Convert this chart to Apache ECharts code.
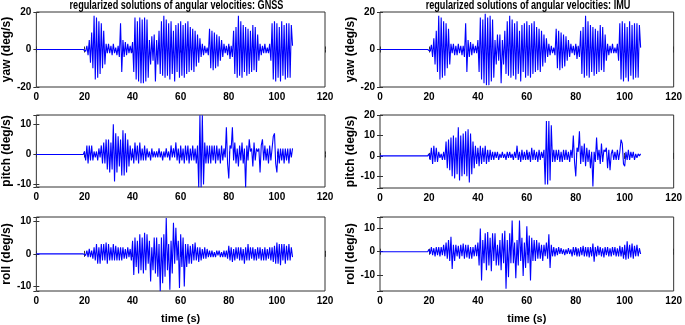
<!DOCTYPE html>
<html>
<head>
<meta charset="utf-8">
<script src="https://cdn.jsdelivr.net/npm/echarts@6/dist/echarts.min.js"></script>
<style>
  html, body { margin: 0; padding: 0; background: #fff; }
  #chart { width: 685px; height: 325px; }
</style>
</head>
<body>
<div id="chart"></div>
<script>
// samples, one every 0.5 s from t = 19.5 s (flat zero before)
const startTime = 19.5
const step = 0.5

const yawGnss = [0,
  0.5, -1, 2, -3, 5, -7, 9, -10, 18, -16,
  17, -15, 15, -13, 14, -10, 10, -8, 3, -2,
  3, -2, 2, -3, 3, -2, 1, -3, 2, -4,
  14, -12, 5, -4, 4, -3, 3, -2, 2, -2,
  4, -12, 17, -16, 15, -17, 17, -18, 16, -18,
  17, -17, 16, -15, 5, -8, 7, -6, 8, -17,
  5, -8, 10, -13, 15, -14, 18, -15, 16, -14,
  14, -16, 15, -13, 10, -17, 13, -12, 14, -15,
  15, -14, 13, -15, 14, -13, 15, -12, 12, -11,
  11, -12, 10, -9, 8, -7, 6, -4, 3, -3,
  2, -2, 1, -3, 11, -10, 10, -11, 9, -10,
  8, -9, 7, -6, 5, -4, 3, -2, 2, -3,
  3, -5, 2, -4, 10, -13, 12, -15, 18, -14,
  15, -15, 13, -12, 12, -14, 11, -13, 10, -12,
  13, -11, 12, -12, 8, -6, 3, -3, 2, -2,
  3, -2, 1, -2, 3, -6, 14, -16, 15, -17,
  14, -15, 12, -17, 15, -14, 13, -16, 14, -15,
  14, -15, 13, 2
]
const yawImu = [0,
  0.5, -1, 2.5, -4, 6, -8, 10, -12, 18, -16,
  17, -15, 15, -14, 14, -10, 11, -8, 3, -2,
  3, -3, 2, -3, 3, -2, 2, -3, 2, -4,
  14, -12, 5, -4, 4, -3, 3, -2, 2, -2,
  5, -12, 17, -16, 16, -18, 19, -19, 17, -19,
  18, -17, 16, -15, 5, -8, 8, -6, 8, -18,
  5, -8, 10, -13, 15, -14, 18, -15, 16, -14,
  14, -16, 15, -13, 10, -17, 13, -12, 14, -15,
  15, -14, 13, -15, 14, -13, 15, -12, 12, -11,
  11, -12, 10, -9, 8, -7, 6, -4, 3, -3,
  2, -2, 1, -3, 11, -10, 10, -11, 9, -10,
  8, -9, 7, -6, 5, -4, 3, -2, 2, -3,
  3, -5, 2, -4, 10, -13, 12, -15, 18, -14,
  15, -15, 13, -12, 12, -14, 11, -13, 10, -12,
  13, -11, 12, -12, 8, -6, 3, -3, 2, -2,
  3, -2, 1, -2, 3, -6, 14, -16, 15, -17,
  14, -15, 12, -17, 15, -14, 13, -16, 14, -15,
  14, -15, 13, 1
]
const pitchGnss = [0,
  1, -2, 3, -3, 3, -2, 3, -2, 1, -1,
  1, -2, 2, -1, 3, -3, 4, -3, 5, -5,
  5, -6, 4, -5, 10, -9, 7, -6, 6, -4,
  5, -7, 8, -7, 7, -6, 5, -4, 3, -2,
  2, -3, 4, -2, 3, -3, 4, -2, 2, -2,
  3, -2, 2, -1, 1, -2, 2, -1, 1, -1,
  1, -1, 2, -1, 1, -2, 1, -1, 2, -1,
  1, -2, 3, -1, 2, -1, 4, -2, 2, -3,
  3, -2, 2, -3, 3, -2, 3, -3, 2, -2,
  3, -2, 2, -3, 3, -11, 13, -11, 13, -10,
  4, -3, 3, -3, 3, -3, 3, -2, 3, -3,
  3, -2, 2, -3, 3, -2, 2, -1, 9, -3,
  -8, 3, 2, 9, -2, 4, -3, 2, -4, 3,
  -2, 4, -3, 2, -11, 3, -2, 5, 1, 2,
  -4, 4, -2, 2, 1, 2, -6, 3, 5, -2,
  3, -2, 2, -3, 3, -2, 2, 6, 7, -3,
  -6, 2, -3, 2, -2, 2, -3, 2, -2, 2,
  -3, 2, -1, 2
]
const pitchImu = [0,
  1, -2, 4, -4, 5, -3, 4, -3, 2, -1,
  1, -2, 2, -2, 7, -6, 8, -7, 9, -10,
  10, -11, 9, -9, 14, -12, 10, -10, 11, -9,
  12, -10, 13, -13, 11, -9, 7, -6, 5, -4,
  4, -5, 5, -4, 4, -3, 5, -4, 3, -3,
  3, -2, 2, -2, 2, -1, 2, -2, 1, -1,
  2, -1, 1, -2, 2, -1, 2, -1, 1, -2,
  2, -1, 5, -2, 2, -3, 3, -2, 2, -2,
  3, -2, 2, -3, 4, -2, 3, -2, 2, -3,
  3, -2, 2, -1, 3, -14, 17, -14, 17, -12,
  15, -3, 3, -3, 3, -2, 3, -3, 2, -3,
  3, -2, 3, -2, 2, -3, 3, -1, 10, -3,
  -10, 4, 2, 12, -4, 5, -3, 6, -5, 4,
  -3, 3, -6, 2, -15, 2, -3, 9, -2, 3,
  -4, 6, -3, 3, 2, 4, -6, 3, -7, 1,
  3, -2, 2, -2, 3, -2, 2, 8, 6, -4,
  -5, 2, -2, 3, -2, 2, -1, 2, -2, 1,
  -1, 1, 0, 1
]
const rollGnss = [0,
  0.5, -0.5, 1, -1, 1.5, -1, 1, -1.5, 2, -2,
  3, -3, 2, -3, 3, -2, 3, -2, 3.5, -3,
  3, -2, 2, -2, 3, -2, 2.5, -2, 2, -2,
  2, -2, 2, -1.5, 1.5, -1.5, 2, -1, 1.5, -2,
  4, -6.5, 5, -4, 4, -6, 6, -5, 5, -6,
  6.5, -5, 6, -3, 4, -8.5, 2, -5, 5, -6,
  5, -7, 3, -11.5, 5, -9, 6, -7, 11, -5,
  3, -11, 4, -6, 9.5, -3, 8, -2, 4, -10.5,
  6, -4, 5, -10, 3, -4, 3, -3, 2.5, -3,
  3, -2, 3.5, -2, 2, -2.5, 2, -2, 1.5, -1.5,
  2, -1.5, 1.5, -1, 1, -1, 1, -1, 0.5, -1,
  1, -0.5, 1, -1, 0.5, -1, 1, -1, 1, -1.5,
  2.5, -2, 2, -2.5, 1.5, -2, 2, -1.5, 2, -2,
  2, -2, 1.5, -3, 2, -2, 3, -2, 2, -1.5,
  2, -2, 1.5, -2, 2, -1.5, 2, -2, 1.5, -2,
  2, -2, 1.5, -1.5, 2, -2, 2, -2.5, 2.5, -3,
  3.5, -3, 3, -3.5, 3, -2, 3, -3, 2.5, -2,
  3, -2, 2, -1
]
const rollImu = [0,
  1, -1, 2, -1.5, 1.5, -2, 2, -1.5, 2, -2,
  2, -1.5, 3, -2, 4, -3, 5, -4, 6.5, -7.5,
  3, -4, 3, -2, 2.5, -3, 3, -2, 3.5, -3,
  3, -2.5, 3, -3, 2, -3, 2, -2, 3, -2,
  4, -6, 10, -12.5, 5, -5, 8, -8, 8.5, -6,
  6, -8.5, 8, -4, 8, -6, 3, -6, 5, -8,
  8, -5, 9, -16, 5, -11, 8, -5, 13.5, -5,
  4, -11.5, 5, -6, 13.5, -4, 6, -10.5, 4, -7,
  11, -5, 7, -12.5, 6, -4, 5, -4, 5, -3,
  4, -3, 3, -4, 3, -2, 4, -3, 7.5, -7,
  3, -2, 2, -2, 1.5, -1.5, 2, -1, 1.5, -1,
  1, -1.5, 1, -1, 1.5, -1, 1, -2, 2, -1.5,
  2, -2, 1.5, -2, 2, -1.5, 2.5, -2, 2, -2,
  2, -2.5, 2, -2, 3.5, -4.3, 2, -2, 2.5, -1.5,
  2, -2, 1.5, -2.5, 2, -1.5, 2, -2, 1.5, -2,
  2, -1.5, 2, -2, 1.5, -2, 2.5, -2, 2, -3,
  3, -3.5, 4.5, -3, 3, -2.5, 3.5, -3, 2.5, -2,
  3, -2, 1.5, -1
]

const titles = ['regularized solutions of angular velocities: GNSS', 'regularized solutions of angular velocities: IMU']

const sans = "'Liberation Sans', Arial, sans-serif"
const blue = '#0000ff'
const frame = '#333'

const panels = [
  { left: 28, top: 12, height: 75, width: 297, yMin: -20, yMax: 20, name: 'yaw (deg/s)', values: yawGnss },
  { left: 380, top: 12, height: 75, width: 295, yMin: -20, yMax: 20, name: 'yaw (deg/s)', values: yawImu },
  { left: 28, top: 115, height: 72, width: 297, yMin: -10.8, yMax: 13.1, name: 'pitch (deg/s)', values: pitchGnss },
  { left: 380, top: 115, height: 73, width: 295, yMin: -15.7, yMax: 20, name: 'pitch (deg/s)', values: pitchImu },
  { left: 28, top: 217, height: 74, width: 297, yMin: -11.4, yMax: 11.3, name: 'roll (deg/s)', values: rollGnss, xName: 'time (s)' },
  { left: 380, top: 217, height: 74, width: 295, yMin: -17, yMax: 15, name: 'roll (deg/s)', values: rollImu, xName: 'time (s)' }
]

const toPoints = values => [[0, 0]].concat(values.map((v, i) => [startTime + i * step, v]))

const tickFont = { fontFamily: sans, fontWeight: 'bold', fontSize: 10, color: '#000' }

const grids = panels.map(p => ({
  left: p.left, top: p.top, width: p.width, height: p.height,
  show: true, borderColor: frame, borderWidth: 1, backgroundColor: '#fff'
}))

const xAxes = []
const yAxes = []
panels.forEach((p, i) => {
  xAxes.push({
    type: 'value', gridIndex: i, min: 0, max: 120, interval: 20,
    name: p.xName || '', nameLocation: 'middle', nameGap: 22,
    nameTextStyle: { fontFamily: sans, fontWeight: 'bold', fontSize: 11, color: '#000' },
    axisLine: { show: false },
    axisTick: { inside: true, length: 3, lineStyle: { color: frame } },
    axisLabel: Object.assign({ margin: 5 }, tickFont),
    splitLine: { show: false }
  })
  yAxes.push({
    type: 'value', gridIndex: i, min: p.yMin, max: p.yMax,
    interval: p.yMax === 20 && p.yMin === -20 ? 20 : undefined,
    splitNumber: 3,
    name: p.name, nameLocation: 'middle', nameGap: 22,
    nameTextStyle: { fontFamily: sans, fontWeight: 'bold', fontSize: 12, color: '#000' },
    axisLine: { show: false },
    axisTick: { inside: true, length: 3, lineStyle: { color: frame } },
    axisLabel: Object.assign({ margin: 5, formatter: v => (Math.abs(v % 10) < 1e-9 ? String(v) : '') }, tickFont),
    splitLine: { show: false }
  })
})
// mirrored ticks on top and right edges of each box
panels.forEach((p, i) => {
  xAxes.push({
    type: 'value', gridIndex: i, position: 'top', min: 0, max: 120, interval: 20,
    axisLine: { show: false }, axisLabel: { show: false }, splitLine: { show: false },
    axisTick: { inside: true, length: 3, lineStyle: { color: frame } }
  })
  yAxes.push({
    type: 'value', gridIndex: i, position: 'right', min: p.yMin, max: p.yMax,
    interval: p.yMax === 20 && p.yMin === -20 ? 20 : undefined,
    splitNumber: 3,
    axisLine: { show: false }, axisLabel: { show: false }, splitLine: { show: false },
    axisTick: { inside: true, length: 3, lineStyle: { color: frame } }
  })
})

const chart = echarts.init(document.getElementById('chart'), null, { renderer: 'canvas' })
chart.setOption({
  animation: false,
  backgroundColor: '#fff',
  // titles drawn a little narrower, like the squeezed original
  graphic: titles.map((text, i) => ({
    type: 'text',
    x: i === 0 ? 176.5 : 528,
    y: 6,
    scaleX: 0.76,
    style: { text, fill: '#000', font: "bold 12px 'Liberation Sans', Arial, sans-serif", align: 'center', verticalAlign: 'middle' }
  })),
  grid: grids,
  xAxis: xAxes,
  yAxis: yAxes,
  series: panels.map((p, i) => ({
    type: 'line',
    xAxisIndex: i,
    yAxisIndex: i,
    data: toPoints(p.values),
    showSymbol: false,
    symbol: 'none',
    clip: true,
    lineStyle: { color: blue, width: 1.1 }
  }))
})
</script>
</body>
</html>
